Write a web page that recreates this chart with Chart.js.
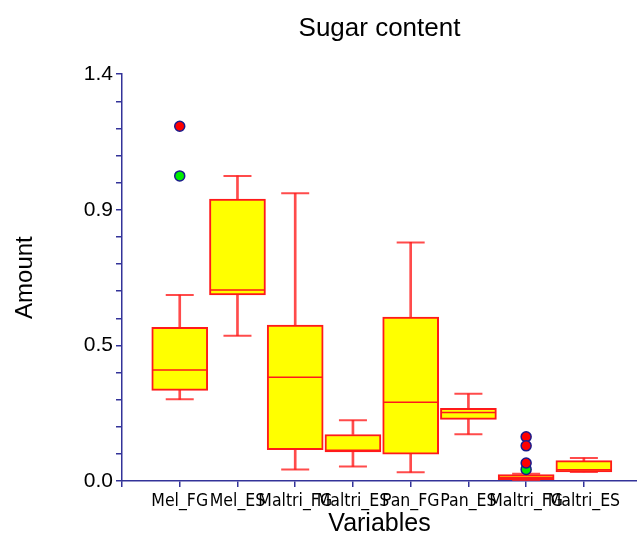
<!DOCTYPE html>
<html>
<head>
<meta charset="utf-8">
<script src="https://cdn.jsdelivr.net/npm/chart.js@4"></script>
<style>
  html, body { margin: 0; padding: 0; background: #fff; }
  #wrap { width: 637px; height: 537px; }
</style>
</head>
<body>
<div id="wrap"><canvas id="c"></canvas></div>
<script>
// Box-and-whisker summary per variable (same order as categories)
const categories  = ['Mel_FG', 'Mel_ES', 'Maltri_FG', 'Maltri_ES', 'Pan_FG', 'Pan_ES', 'Maltri_FG', 'Maltri_ES'];
const whiskerLow  = [0.281, 0.500, 0.040, 0.050, 0.030, 0.161, 0.000, 0.031];
const q1          = [0.312, 0.640, 0.108, 0.100, 0.092, 0.212, 0.005, 0.031];
const median      = [0.382, 0.657, 0.357, 0.106, 0.271, 0.236, 0.012, 0.039];
const q3          = [0.529, 0.970, 0.537, 0.160, 0.564, 0.250, 0.022, 0.070];
const whiskerHigh = [0.640, 1.050, 0.990, 0.209, 0.821, 0.300, 0.025, 0.079];

// Outside points: position is the 1-based category slot
const farOutlierPos  = [1, 7, 7, 7];
const farOutlierVal  = [1.221, 0.152, 0.121, 0.062];
const mildOutlierPos = [1, 7];
const mildOutlierVal = [1.050, 0.040];

// Value axis: 15 equal divisions, labels on every fifth
const yMax = 1.4;
const yDivisions = 15;
const yLabelEvery = 5;

const FONT = "'Liberation Sans', Arial, sans-serif";
const NARROW = "'Liberation Sans Narrow', 'Arial Narrow', 'DejaVu Sans Condensed', sans-serif";
const AXIS = '#333399';
const BOX_RED = '#ff1a1a';
const WHISKER_RED = 'rgba(255,30,30,0.8)';

const slot = i => i + 1;

const boxData   = categories.map((_, i) => ({ x: slot(i), y: [q1[i], q3[i]] }));
const upperData = categories.map((_, i) => ({ x: slot(i), y: [q3[i], whiskerHigh[i]] }));
const lowerData = categories.map((_, i) => ({ x: slot(i), y: [whiskerLow[i], q1[i]] }));
const medianData = categories.map((_, i) => ({ x: slot(i), y: median[i] }));
const capData = categories.flatMap((_, i) => [
  { x: slot(i), y: whiskerHigh[i] },
  { x: slot(i), y: whiskerLow[i] }
]);
const farData  = farOutlierPos.map((p, i) => ({ x: p, y: farOutlierVal[i] }));
const mildData = mildOutlierPos.map((p, i) => ({ x: p, y: mildOutlierVal[i] }));

new Chart(document.getElementById('c'), {
  type: 'bar',
  data: {
    datasets: [
      { type: 'bar', data: upperData, grouped: false, barThickness: 2,
        backgroundColor: WHISKER_RED, borderWidth: 0, order: 6 },
      { type: 'bar', data: lowerData, grouped: false, barThickness: 2,
        backgroundColor: WHISKER_RED, borderWidth: 0, order: 6 },
      { type: 'scatter', data: capData, pointStyle: 'line', pointRadius: 14,
        borderColor: WHISKER_RED, borderWidth: 2, order: 5 },
      { type: 'bar', data: boxData, grouped: false, barThickness: 56,
        backgroundColor: '#ffff00', borderColor: BOX_RED, borderWidth: 2,
        borderSkipped: false, order: 4 },
      { type: 'scatter', data: medianData, pointStyle: 'line', pointRadius: 27,
        borderColor: BOX_RED, borderWidth: 1.5, order: 3 },
      { type: 'scatter', data: farData, pointRadius: 5, pointBorderWidth: 1.5,
        backgroundColor: '#ff0000', borderColor: '#1a1a8c', order: 1 },
      { type: 'scatter', data: mildData, pointRadius: 5, pointBorderWidth: 1.5,
        backgroundColor: '#00ee00', borderColor: '#1a1a8c', order: 1 }
    ]
  },
  options: {
    responsive: true,
    maintainAspectRatio: false,
    animation: false,
    events: [],
    layout: { padding: 0, autoPadding: false },
    plugins: {
      legend: { display: false },
      tooltip: { enabled: false },
      title: {
        display: true,
        text: 'Sugar content',
        color: '#000',
        fullSize: false,
        font: { family: FONT, size: 26, weight: 'normal' },
        padding: { top: 13, bottom: 30 }
      }
    },
    scales: {
      x: {
        type: 'linear',
        min: 0,
        max: 8.92,
        offset: false,
        afterFit: s => { s.height = 56; s.paddingLeft = 0; s.paddingRight = 0; },
        border: { color: AXIS, width: 1.5 },
        grid: { offset: false, drawOnChartArea: false, drawTicks: true, tickLength: 6, color: AXIS, lineWidth: 1.5 },
        ticks: {
          stepSize: 1,
          includeBounds: false,
          autoSkip: false,
          maxRotation: 0,
          minRotation: 0,
          padding: 4,
          color: '#000',
          font: { family: NARROW, size: 17.5 },
          callback: v => categories[v - 1] || ''
        },
        title: {
          display: true,
          text: 'Variables',
          color: '#000',
          font: { family: FONT, size: 25 },
          padding: { top: 0, bottom: -2 }
        }
      },
      y: {
        type: 'linear',
        min: 0,
        max: yMax,
        afterFit: s => { s.width = 122; },
        afterBuildTicks: s => {
          s.ticks = Array.from({ length: yDivisions + 1 }, (_, i) => ({ value: i * yMax / yDivisions }));
        },
        border: { color: AXIS, width: 1.5 },
        grid: { drawOnChartArea: false, drawTicks: true, tickLength: 6, color: AXIS, lineWidth: 1.5 },
        ticks: {
          autoSkip: false,
          padding: 3,
          color: '#000',
          font: { family: FONT, size: 21 },
          callback: (v, i) => (i % yLabelEvery === 0 ? v.toFixed(1) : '')
        },
        title: {
          display: true,
          text: 'Amount',
          color: '#000',
          font: { family: FONT, size: 24 },
          padding: { top: 11, bottom: 0 }
        }
      }
    }
  }
});
</script>
</body>
</html>
